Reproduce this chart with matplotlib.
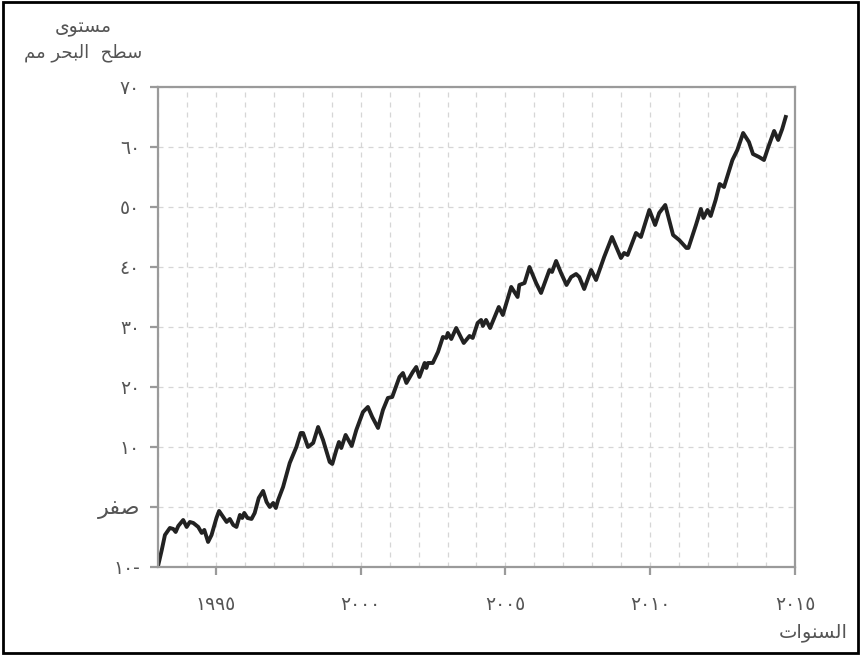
import matplotlib
matplotlib.use("Agg")
from matplotlib import pyplot as plt
from matplotlib.patches import Rectangle
from matplotlib.ticker import MultipleLocator

# sea level (mm)
years = [1993.01, 1993.13, 1993.24, 1993.41, 1993.53, 1993.61, 1993.70, 1993.87, 1993.99,
         1994.10, 1994.22, 1994.39, 1994.51, 1994.60, 1994.73, 1994.85,
         1995.02, 1995.11, 1995.25, 1995.37, 1995.48, 1995.60, 1995.71, 1995.83, 1995.91, 1995.98,
         1996.09, 1996.23, 1996.34, 1996.48, 1996.63, 1996.75, 1996.86, 1996.98,
         1997.07, 1997.15, 1997.32, 1997.55, 1997.78, 1997.93,
         1998.01, 1998.18, 1998.36, 1998.53, 1998.70, 1998.93,
         1999.02, 1999.16, 1999.25, 1999.33, 1999.48, 1999.69, 1999.85,
         2000.08, 2000.25, 2000.40, 2000.60, 2000.77, 2000.94,
         2001.09, 2001.34, 2001.46, 2001.58, 2001.80, 2001.92,
         2002.03, 2002.21, 2002.27, 2002.32, 2002.49, 2002.67, 2002.84, 2002.96,
         2003.01, 2003.13, 2003.30, 2003.56, 2003.76, 2003.87,
         2004.04, 2004.16, 2004.22, 2004.33, 2004.47, 2004.77, 2004.91,
         2005.20, 2005.42, 2005.48, 2005.66, 2005.83,
         2006.06, 2006.23, 2006.52, 2006.61, 2006.75, 2006.92,
         2007.11, 2007.27, 2007.44, 2007.55, 2007.72, 2007.96,
         2008.13, 2008.41, 2008.68, 2008.99,
         2009.10, 2009.22, 2009.51, 2009.68, 2009.97,
         2010.17, 2010.31, 2010.52, 2010.79,
         2011.00, 2011.25, 2011.32, 2011.58, 2011.75, 2011.84, 2011.98,
         2012.09, 2012.26, 2012.40, 2012.55, 2012.84,
         2013.01, 2013.21, 2013.41, 2013.55, 2013.76, 2013.93,
         2014.08, 2014.28, 2014.42, 2014.56, 2014.68]
level = [-9.67, -7.17, -4.67, -3.5, -3.67, -4.17, -3.17, -2.17, -3.33,
         -2.5, -2.67, -3.33, -4.33, -3.83, -5.83, -4.67,
         -1.83, -0.67, -1.67, -2.5, -2.0, -3.0, -3.33, -1.33, -1.83, -1.0,
         -1.83, -2.0, -1.0, 1.5, 2.67, 0.83, 0.0, 0.67,
         -0.17, 1.17, 3.33, 7.33, 10.0, 12.33,
         12.33, 10.0, 10.67, 13.33, 11.17, 7.5,
         7.17, 9.5, 10.83, 9.83, 12.0, 10.17, 12.83,
         15.83, 16.67, 15.0, 13.17, 16.17, 18.17,
         18.33, 21.67, 22.33, 20.67, 22.5, 23.33,
         21.67, 24.0, 23.17, 24.0, 24.0, 25.83, 28.33, 28.17,
         29.0, 28.0, 29.83, 27.33, 28.5, 28.17,
         30.67, 31.17, 30.17, 31.17, 29.83, 33.33, 32.0,
         36.67, 35.0, 37.0, 37.33, 40.0,
         37.33, 35.67, 39.5, 39.17, 41.0, 39.0,
         37.0, 38.33, 38.83, 38.33, 36.33, 39.5,
         37.83, 41.67, 45.0, 41.5,
         42.33, 42.0, 45.67, 45.0, 49.5,
         47.0, 49.0, 50.33, 45.33,
         44.5, 43.17, 43.17, 47.0, 49.67, 48.17, 49.5,
         48.5, 51.17, 53.83, 53.33, 57.83,
         59.5, 62.33, 60.83, 58.83, 58.33, 57.83,
         60.0, 62.67, 61.17, 63.0, 65.0]

y_ticks = [-10, 0, 10, 20, 30, 40, 50, 60, 70]
y_labels = ["\u0661\u0660-", "\uFEAE\uFED4\uFEBB", "\u0661\u0660", "\u0662\u0660", "\u0663\u0660",
            "\u0664\u0660", "\u0665\u0660", "\u0666\u0660", "\u0667\u0660"]
x_ticks = [1995, 2000, 2005, 2010, 2015]
x_labels = ["\u0661\u0669\u0669\u0665", "\u0662\u0660\u0660\u0660", "\u0662\u0660\u0660\u0665",
            "\u0662\u0660\u0661\u0660", "\u0662\u0660\u0661\u0665"]

# arabic written in presentation forms, visual order (matplotlib does no shaping)
ylab1 = "\uFEEF\uFEEE\uFE98\uFEB4\uFEE3"
ylab2 = "\uFEE2\uFEE3 \uFEAE\uFEA4\uFE92\uFEDF\uFE8D  \uFEA2\uFEC4\uFEB3"
xlab = "\uFE95\uFE8D\uFEEE\uFEE8\uFEB4\uFEDF\uFE8D"

txt = "#555555"
spine = "#9a9a9a"

fig = plt.figure(figsize=(8.61, 6.55), dpi=100)
ax = fig.add_axes([0.1835, 0.1344, 0.7398, 0.7328])

ax.plot(years, level, color="#222222", lw=2.8, solid_joinstyle="round")

ax.set_xlim(1993, 2015)
ax.set_ylim(-10, 70)
ax.set_xticks(x_ticks)
ax.set_xticklabels(x_labels)
ax.set_yticks(y_ticks)
ax.set_yticklabels(y_labels)
ax.xaxis.set_minor_locator(MultipleLocator(1))

ax.grid(True, which="both", axis="x", color="#d6d6d6", ls=(0, (4, 4)), lw=0.9)
ax.grid(True, which="major", axis="y", color="#d6d6d6", ls=(0, (4, 4)), lw=0.9)
ax.set_axisbelow(True)

for s in ax.spines.values():
    s.set_color(spine)
    s.set_linewidth(1.6)
ax.tick_params(which="major", length=6, width=1.6, color=spine, labelcolor=txt, labelsize=13.5)
ax.tick_params(axis="y", pad=7)
ax.tick_params(axis="x", pad=14)
ax.tick_params(which="minor", length=0)
# the word for zero is drawn bigger in the original
ax.get_yticklabels()[1].set_fontsize(16)

fig.text(0.097, 0.958, ylab1, ha="center", va="center", fontsize=13.5, color=txt)
fig.text(0.097, 0.920, ylab2, ha="center", va="center", fontsize=13, color=txt)
fig.text(0.985, 0.035, xlab, ha="right", va="center", fontsize=14, color=txt)

fig.patches.append(Rectangle((0.003, 0.003), 0.994, 0.994, transform=fig.transFigure,
                             fill=False, edgecolor="black", lw=2))

fig.savefig("out.png", dpi=100)
